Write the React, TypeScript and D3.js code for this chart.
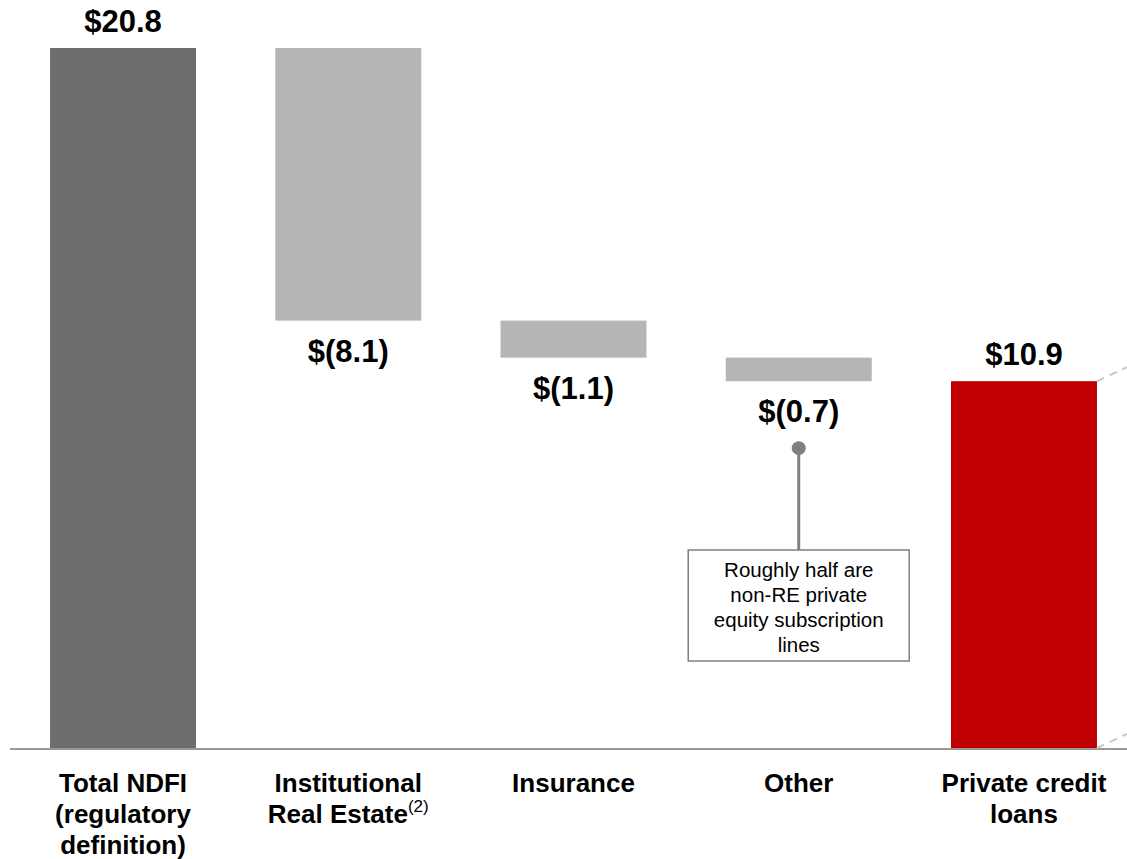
import React from "react";
import * as d3 from "d3";

const categories = ["Total NDFI", "Institutional Real Estate", "Insurance", "Other", "Private credit loans"];
const values = [20.8, -8.1, -1.1, -0.7, 10.9];
const kinds = ["total", "delta", "delta", "delta", "total"];
const valueLabels = ["$20.8", "$(8.1)", "$(1.1)", "$(0.7)", "$10.9"];
const labelLines = [
  ["Total NDFI", "(regulatory", "definition)"],
  ["Institutional", "Real Estate"],
  ["Insurance"],
  ["Other"],
  ["Private credit", "loans"],
];
const calloutLines = ["Roughly half are", "non-RE private", "equity subscription", "lines"];

const W = 1127;
const H = 859;
const FONT = "Arial, 'Liberation Sans', Helvetica, sans-serif";
const colors = ["#6d6d6d", "#b5b5b5", "#b5b5b5", "#b5b5b5", "#c00000"];

export default function App() {
  const x = d3.scaleBand<string>().domain(categories).range([10.4, 1136.6]).paddingInner(0.352).paddingOuter(0.176);
  const y = d3.scaleLinear().domain([0, 20.8]).range([748, 48]);

  let running = 0;
  const bars = categories.map((c, i) => {
    let y0: number, y1: number;
    if (kinds[i] === "total") {
      y0 = 0;
      y1 = values[i];
      running = values[i];
    } else {
      y0 = running;
      y1 = running + values[i];
      running = y1;
    }
    return { c, i, lo: Math.min(y0, y1), hi: Math.max(y0, y1), v: values[i] };
  });

  const bw = x.bandwidth();
  const base = y(0);
  const last = bars[bars.length - 1];
  const lastRight = (x(last.c) as number) + bw;
  const other = bars[3];
  const otherCx = (x(other.c) as number) + bw / 2;
  const dotY = y(other.lo) + 67;
  const boxTop = 550;
  const boxW = 221;
  const boxH = 111;

  return (
    <svg width={W} height={H} style={{ position: "absolute", left: 0, top: 0, background: "#fff" }} fontFamily={FONT}>
      {bars.map((b) => (
        <rect
          key={b.c}
          x={x(b.c)}
          y={y(b.hi)}
          width={bw}
          height={y(b.lo) - y(b.hi)}
          fill={colors[b.i]}
        />
      ))}
      <line x1={10} x2={W} y1={base + 1} y2={base + 1} stroke="#999" strokeWidth={2} />
      <line x1={lastRight} y1={y(last.hi)} x2={W} y2={y(last.hi) - 14} stroke="#c8c8c8" strokeWidth={2} strokeDasharray="8,6" />
      <line x1={lastRight} y1={base} x2={W} y2={base - 14} stroke="#c8c8c8" strokeWidth={2} strokeDasharray="8,6" />
      {bars.map((b) => {
        const cx = (x(b.c) as number) + bw / 2;
        const yy = b.v >= 0 ? y(b.hi) - 16 : y(b.lo) + 41;
        return (
          <text key={"v" + b.c} x={cx} y={yy} textAnchor="middle" fontWeight="bold" fontSize={31} fill="#000">
            {valueLabels[b.i]}
          </text>
        );
      })}
      {bars.map((b) => {
        const cx = (x(b.c) as number) + bw / 2;
        return (
          <text key={"c" + b.c} x={cx} y={792} textAnchor="middle" fontWeight="bold" fontSize={26} fill="#000">
            {labelLines[b.i].map((ln, k) => (
              <tspan key={k} x={cx} dy={k === 0 ? 0 : 31}>
                {ln}
                {b.i === 1 && k === 1 ? (
                  <tspan fontWeight="normal" fontSize={17} dy={-11}>(2)</tspan>
                ) : null}
              </tspan>
            ))}
          </text>
        );
      })}
      <line x1={otherCx} x2={otherCx} y1={dotY} y2={boxTop} stroke="#808080" strokeWidth={3} />
      <circle cx={otherCx} cy={dotY} r={7} fill="#808080" />
      <rect x={otherCx - boxW / 2} y={boxTop} width={boxW} height={boxH} fill="#fff" stroke="#808080" strokeWidth={1.5} />
      <text textAnchor="middle" fontSize={20.5} fill="#000">
        {calloutLines.map((ln, k) => (
          <tspan key={k} x={otherCx} y={boxTop + 27 + k * 25}>{ln}</tspan>
        ))}
      </text>
    </svg>
  );
}
